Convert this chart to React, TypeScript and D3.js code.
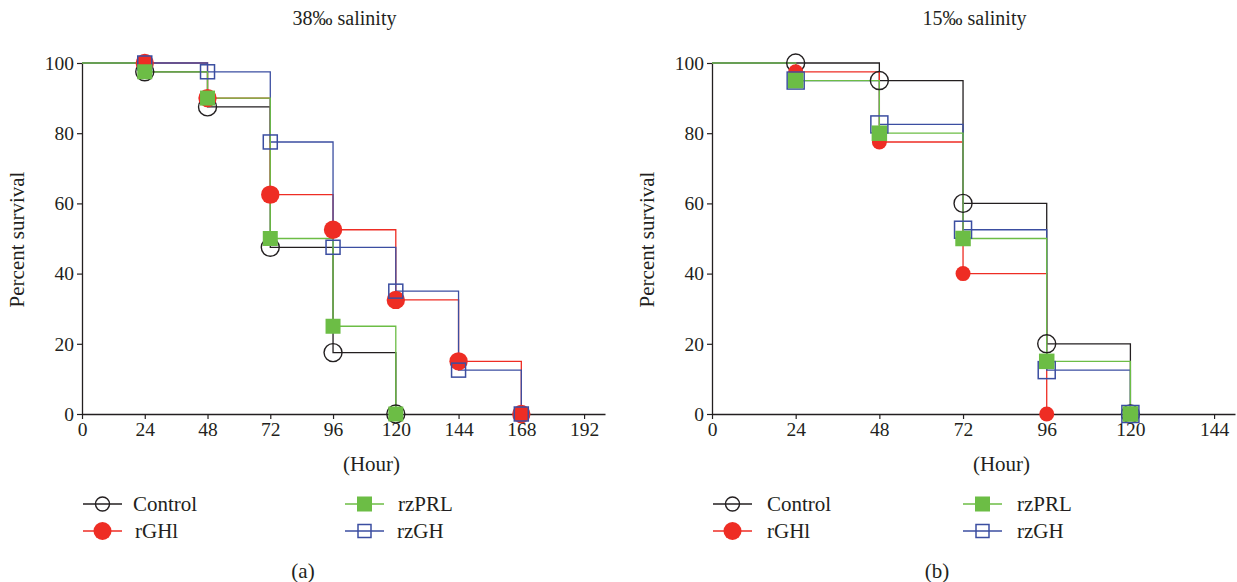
import React, { useEffect, useRef } from "react";
import * as d3 from "d3";

// time points (hours)
const hours = [0, 24, 48, 72, 96, 120, 144, 168];

// 38‰ salinity (panel a)
const control38 = [100, 97.5, 87.5, 47.5, 17.5, 0];
const rGHl38 = [100, 100, 90, 62.5, 52.5, 32.5, 15, 0];
const rzPRL38 = [100, 97.5, 90, 50, 25, 0];
const rzGH38 = [100, 100, 97.5, 77.5, 47.5, 35, 12.5, 0];

// 15‰ salinity (panel b)
const control15 = [100, 100, 95, 60, 20, 0];
const rGHl15 = [100, 97.5, 77.5, 40, 0];
const rzPRL15 = [100, 95, 80, 50, 15, 0];
const rzGH15 = [100, 95, 82.5, 52.5, 12.5, 0];

const xTicksA = [0, 24, 48, 72, 96, 120, 144, 168, 192];
const xTicksB = [0, 24, 48, 72, 96, 120, 144];
const yTicks = [0, 20, 40, 60, 80, 100];

const TXT = "#231f20";
const FONT = "'Liberation Serif', 'DejaVu Serif', serif";
const COLORS = { control: "#231f20", rGHl: "#ee2d24", rzPRL: "#6cbd45", rzGH: "#3b4ea1" };

function Panel({ left, right, xMax, xTicks, title, label, series, sizes, legend }) {
  const ref = useRef(null);

  useEffect(() => {
    const g = d3.select(ref.current);
    g.selectAll("*").remove();
    const top = 63, bottom = 414;

    const x = d3.scaleLinear().domain([0, xMax]).range([left, right]);
    const y = d3.scaleLinear().domain([0, 100]).range([bottom, top]);

    // axes
    const xa = g.append("g").attr("transform", `translate(0,${bottom})`)
      .call(d3.axisBottom(x).tickValues(xTicks).tickSize(5).tickPadding(3).tickSizeOuter(0));
    const ya = g.append("g").attr("transform", `translate(${left},0)`)
      .call(d3.axisLeft(y).tickValues(yTicks).tickSize(5).tickPadding(3).tickSizeOuter(0));
    [xa, ya].forEach(a => {
      a.select(".domain").attr("stroke", TXT).attr("stroke-width", 1.3);
      a.selectAll(".tick line").attr("stroke", TXT).attr("stroke-width", 1.2);
      a.selectAll(".tick text").attr("fill", TXT).style("font-family", FONT).style("font-size", "19.5px");
    });

    const line = d3.line().curve(d3.curveStepAfter)
      .x((d, i) => x(hours[i])).y(d => y(d));

    series.forEach(s => {
      g.append("path").datum(s.values)
        .attr("fill", "none").attr("stroke", s.color).attr("stroke-width", 1.3)
        .attr("d", line);
    });

    const drawMarker = (sel, s, cx, cy, sz) => {
      if (s.shape === "circle") {
        sel.append("circle").attr("cx", cx).attr("cy", cy).attr("r", sz)
          .attr("fill", s.filled ? s.color : "none")
          .attr("stroke", s.filled ? "none" : s.color).attr("stroke-width", 1.4);
      } else {
        sel.append("rect").attr("x", cx - sz / 2).attr("y", cy - sz / 2)
          .attr("width", sz).attr("height", sz)
          .attr("fill", s.filled ? s.color : "none")
          .attr("stroke", s.filled ? "none" : s.color).attr("stroke-width", 1.5);
      }
    };

    series.forEach(s => {
      const mg = g.append("g");
      s.values.forEach((v, i) => {
        if (i === 0) return;
        drawMarker(mg, s, x(hours[i]), y(v), sizes[s.key]);
      });
    });

    // titles
    g.append("text").attr("x", (left + right) / 2 + 1).attr("y", 25)
      .attr("text-anchor", "middle").attr("fill", TXT)
      .style("font-family", FONT).style("font-size", "20px").text(title);
    g.append("text").attr("x", x(xMax * 0.5) + 28).attr("y", 471)
      .attr("text-anchor", "middle").attr("fill", TXT)
      .style("font-family", FONT).style("font-size", "21px").text("(Hour)");
    g.append("text").attr("transform", `translate(${left - 58},${(top + bottom) / 2 + 1}) rotate(-90)`)
      .attr("text-anchor", "middle").attr("fill", TXT)
      .style("font-family", FONT).style("font-size", "21px").text("Percent survival");

    // legend
    const lg = g.append("g");
    legend.forEach(item => {
      const s = series.find(d => d.key === item.key);
      lg.append("line").attr("x1", item.x).attr("x2", item.x + 39)
        .attr("y1", item.y).attr("y2", item.y)
        .attr("stroke", s.color).attr("stroke-width", 1.3);
      drawMarker(lg, s, item.x + 19.5, item.y, item.size);
      lg.append("text").attr("x", item.tx).attr("y", item.y + 7)
        .attr("fill", TXT).style("font-family", FONT).style("font-size", "21px").text(s.name);
    });

    g.append("text").attr("x", label.x).attr("y", 578)
      .attr("text-anchor", "middle").attr("fill", TXT)
      .style("font-family", FONT).style("font-size", "21px").text(label.text);
  }, []);

  return <g ref={ref}></g>;
}

function makeSeries(c, r, p, b) {
  return [
    { key: "control", name: "Control", values: c, color: COLORS.control, shape: "circle", filled: false },
    { key: "rGHl", name: "rGHl", values: r, color: COLORS.rGHl, shape: "circle", filled: true },
    { key: "rzGH", name: "rzGH", values: b, color: COLORS.rzGH, shape: "square", filled: false },
    { key: "rzPRL", name: "rzPRL", values: p, color: COLORS.rzPRL, shape: "square", filled: true },
  ];
}

export default function App() {
  const legendA = [
    { key: "control", x: 83, y: 504, tx: 133, size: 7 },
    { key: "rGHl", x: 83, y: 531, tx: 135, size: 9 },
    { key: "rzPRL", x: 345, y: 504, tx: 398, size: 15 },
    { key: "rzGH", x: 345, y: 531, tx: 397, size: 13 },
  ];
  const legendB = [
    { key: "control", x: 713, y: 504, tx: 767, size: 7 },
    { key: "rGHl", x: 713, y: 531, tx: 767, size: 9 },
    { key: "rzPRL", x: 963, y: 504, tx: 1017, size: 15 },
    { key: "rzGH", x: 963, y: 531, tx: 1017, size: 13 },
  ];
  return (
    <svg width={1237} height={582} style={{ position: "absolute", left: 0, top: 0, background: "#fff" }}>
      <Panel left={82} right={605} xMax={200} xTicks={xTicksA} title="38‰ salinity"
        label={{ text: "(a)", x: 303 }}
        series={makeSeries(control38, rGHl38, rzPRL38, rzGH38)}
        sizes={{ control: 9, rGHl: 9.2, rzPRL: 15, rzGH: 14 }} legend={legendA} />
      <Panel left={712} right={1235} xMax={150} xTicks={xTicksB} title="15‰ salinity"
        label={{ text: "(b)", x: 937 }}
        series={makeSeries(control15, rGHl15, rzPRL15, rzGH15)}
        sizes={{ control: 9, rGHl: 7.5, rzPRL: 15.5, rzGH: 17 }} legend={legendB} />
    </svg>
  );
}
